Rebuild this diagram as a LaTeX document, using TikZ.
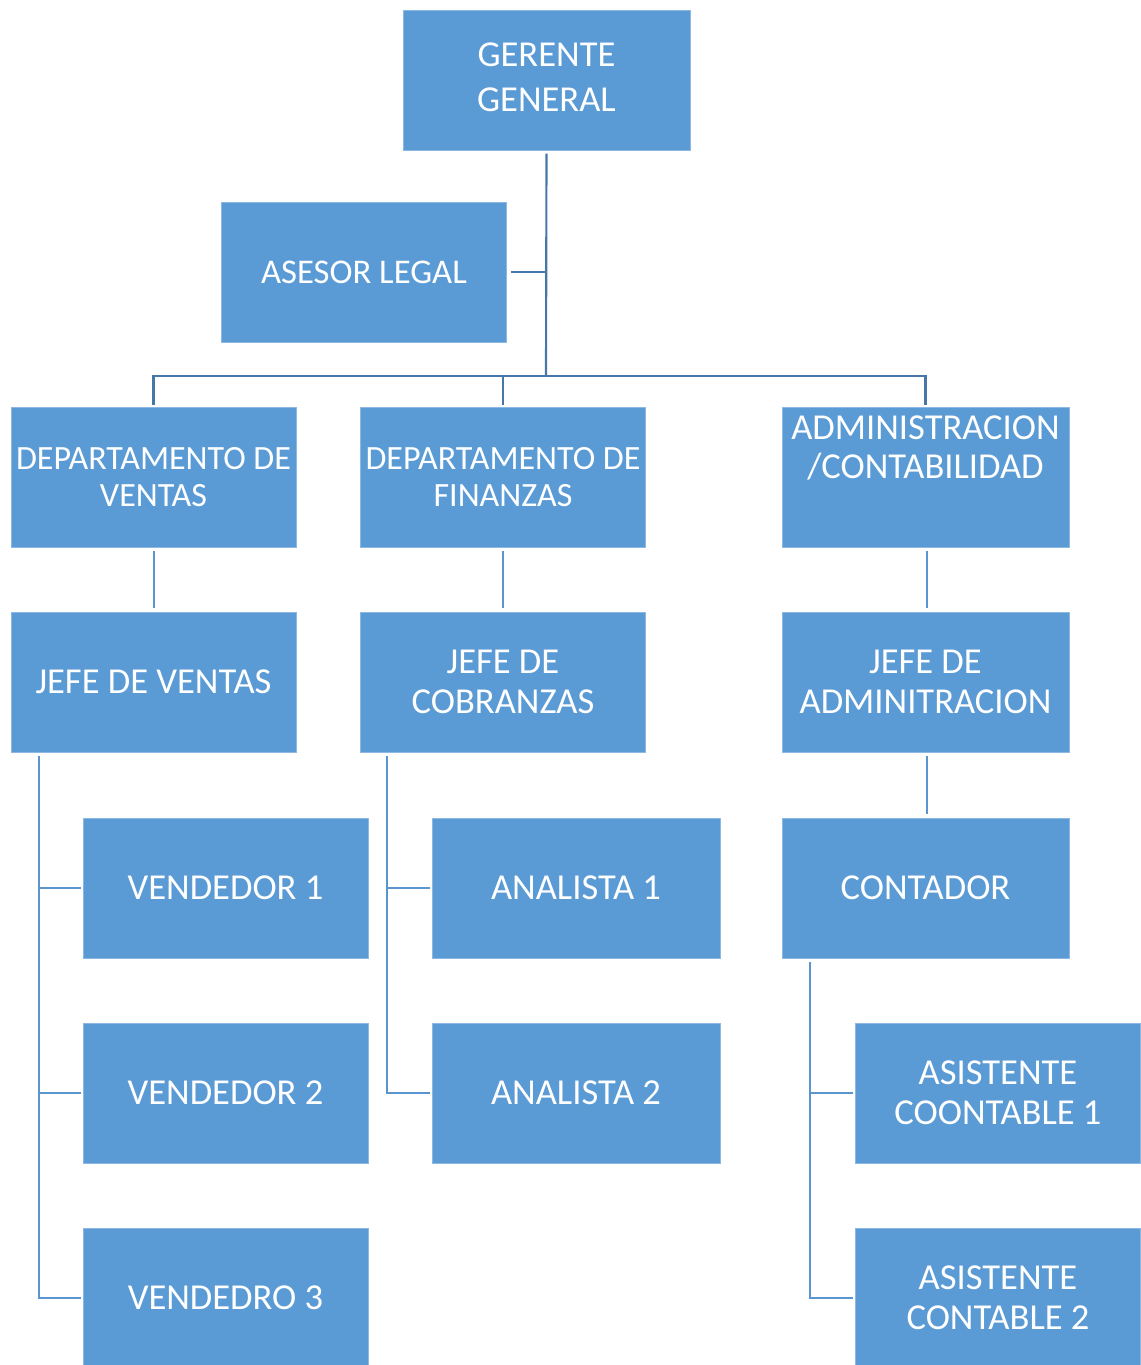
\documentclass[tikz,border=0pt]{standalone}
\usepackage{fontspec}
\setmainfont{Carlito}
\definecolor{boxfill}{HTML}{5B9BD5}
\definecolor{boxedge}{HTML}{8DB8E2}
\definecolor{darkline}{HTML}{4677A8}
\definecolor{lightline}{HTML}{5B95CF}
\begin{document}
\begin{tikzpicture}[x=0.75pt,y=-0.75pt,
  box/.style={fill=boxfill, draw=boxedge, line width=0.6pt, minimum width=213.75pt, minimum height=105pt,
    inner sep=0pt, text=white, align=center, font=\fontsize{27.4}{30}\selectfont},
  deptbox/.style={box, font=\fontsize{25.5}{27.75}\selectfont},
  boxtext/.style={inner sep=0pt, text=white, align=center, font=\fontsize{27.4}{29.5}\selectfont},
  upline/.style={draw=darkline, line width=1.6pt},
  downline/.style={draw=lightline, line width=1.5pt}]
\useasboundingbox (0,0) rectangle (1141,1365);
\clip (0,0) rectangle (1141,1365);

\node[box, minimum width=215.25pt] (gg) at (546.5,80) {};
\node[boxtext, font=\fontsize{27.4}{33.75}\selectfont] (ggtext) at (546.5,77) {GERENTE\\GENERAL};
\node[box, font=\fontsize{26}{30}\selectfont] (al) at (364,272) {ASESOR LEGAL};
\node[deptbox] (dv) at (153.5,477) {DEPARTAMENTO DE\\VENTAS};
\node[deptbox] (df) at (503,477) {DEPARTAMENTO DE\\FINANZAS};
\node[box, minimum width=215.25pt] (ac) at (925.5,477) {};
\node[boxtext] (actext) at (925.5,448) {ADMINISTRACION\\/CONTABILIDAD};
\node[box] (jv) at (153.5,682) {JEFE DE VENTAS};
\node[box] (jc) at (503,682) {JEFE DE\\COBRANZAS};
\node[box, minimum width=215.25pt] (ja) at (925.5,682) {JEFE DE\\ADMINITRACION};
\node[box] (v1) at (225.5,888) {VENDEDOR 1};
\node[box] (v2) at (225.5,1093) {VENDEDOR 2};
\node[box] (v3) at (225.5,1298) {VENDEDRO 3};
\node[box, minimum width=216pt] (a1) at (576,888) {ANALISTA 1};
\node[box, minimum width=216pt] (a2) at (576,1093) {ANALISTA 2};
\node[box, minimum width=215.25pt] (co) at (925.5,888) {CONTADOR};
\node[box] (as1) at (998,1093) {ASISTENTE\\COONTABLE 1};
\node[box] (as2) at (998,1298) {ASISTENTE\\CONTABLE 2};

% top tree
\coordinate (bus) at (546,376);
\draw[upline] ([yshift=-2.5pt]gg.south) -- (bus);
\draw[upline] ([xshift=3pt]al.east) -- (al.east -| bus);
\draw[upline] ([yshift=1.5pt]dv.north) |- (bus) -| ([yshift=1.5pt]ac.north);
\draw[upline] ([yshift=1.5pt]df.north) -- (df.north |- bus);

% departments to heads
\draw[downline] ([yshift=-2.5pt]dv.south) -- ([yshift=2.5pt]jv.north);
\draw[downline] ([yshift=-2.5pt]df.south) -- ([yshift=2.5pt]jc.north);
\draw[downline] ([xshift=1pt,yshift=-2.5pt]ac.south) -- ([xshift=1pt,yshift=2.5pt]ja.north);
\draw[downline] ([xshift=1pt,yshift=-2.5pt]ja.south) -- ([xshift=1pt,yshift=2.5pt]co.north);

% sales
\coordinate (jvs) at ([xshift=21pt,yshift=-3pt]jv.south west);
\draw[downline] (jvs) |- ([xshift=-1.5pt]v3.west);
\draw[downline] (v1.west -| jvs) -- ([xshift=-1.5pt]v1.west);
\draw[downline] (v2.west -| jvs) -- ([xshift=-1.5pt]v2.west);

% collections
\coordinate (jcs) at ([xshift=20.25pt,yshift=-3pt]jc.south west);
\draw[downline] (jcs) |- ([xshift=-1.5pt]a2.west);
\draw[downline] (a1.west -| jcs) -- ([xshift=-1.5pt]a1.west);

% accounting
\coordinate (cos) at ([xshift=21pt,yshift=-3pt]co.south west);
\draw[downline] (cos) |- ([xshift=-1.5pt]as2.west);
\draw[downline] (as1.west -| cos) -- ([xshift=-1.5pt]as1.west);
\end{tikzpicture}
\end{document}
